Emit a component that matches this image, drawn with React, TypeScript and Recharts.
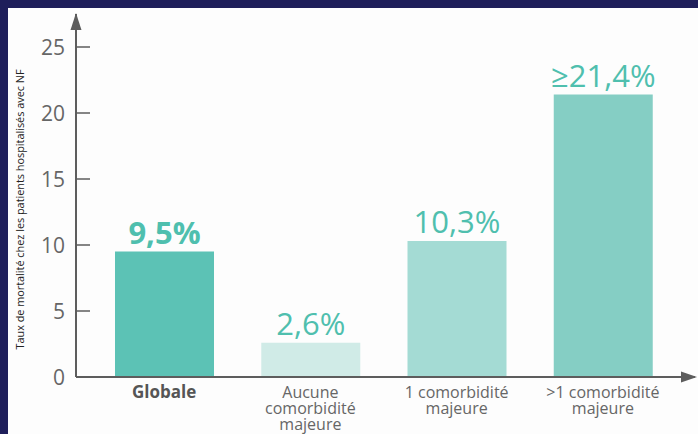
import React from 'react';
import { BarChart, Bar, XAxis, YAxis, Cell, LabelList, usePlotArea } from 'recharts';

const categories = ['Globale', 'Aucune comorbidité majeure', '1 comorbidité majeure', '>1 comorbidité majeure'];
const tickLines = [['Globale'], ['Aucune', 'comorbidité', 'majeure'], ['1 comorbidité', 'majeure'], ['>1 comorbidité', 'majeure']];
const values = [9.5, 2.6, 10.3, 21.4];
const valueLabels = ['9,5%', '2,6%', '10,3%', '≥21,4%'];
const barColors = ['#5cc2b5', '#d0ebe7', '#a4dbd4', '#85cec4'];
const yTicks = [0, 5, 10, 15, 20, 25];
const yTitle = 'Taux de mortalité chez les patients hospitalisés avec NF';

const data = categories.map((c, i) => ({ name: c, value: values[i], idx: i }));

const AXIS = '#5d5d5d';
const FONT = '"Open Sans", "Noto Sans", sans-serif';
const TICK_MARGIN = 11;

const YTick = (props: any) => {
  const { x, y, payload } = props;
  const ax = x + TICK_MARGIN;
  return (
    <g>
      <line x1={ax} y1={y} x2={ax + 14} y2={y} stroke={AXIS} strokeWidth={1.5} />
      <text x={x} y={y} dy={7.5} textAnchor="end" fontFamily={FONT} fontSize={21} fill="#666">
        {payload.value}
      </text>
    </g>
  );
};

const XTick = (props: any) => {
  const { x, y, index } = props;
  const lines = tickLines[index] || [];
  const bold = index === 0;
  return (
    <text x={x} y={y + 13} textAnchor="middle" fontFamily={FONT}
      fontSize={bold ? 17 : 16} fontWeight={bold ? 700 : 400} fill={bold ? '#555' : '#666'}>
      {lines.map((l, i) => (
        <tspan key={i} x={x} dy={i === 0 ? 0 : 16}>{l}</tspan>
      ))}
    </text>
  );
};

const ValueLabel = (props: any) => {
  const { x, y, width, index } = props;
  const bold = index === 0;
  return (
    <text x={x + width / 2} y={y - 8} textAnchor="middle" fontFamily={FONT}
      fontSize={31} fontWeight={bold ? 700 : 400} fill="#4fbfae">
      {valueLabels[index]}
    </text>
  );
};

const Decor = () => {
  const p: any = usePlotArea();
  if (!p) return null;
  const x0 = p.x;
  const yTop = p.y;
  const yb = p.y + p.height;
  const xr = p.x + p.width;
  const tx = x0 - 52;
  const ty = yTop + p.height / 2 + 14;
  return (
    <g>
      <polygon points={`${x0 - 5.5},${yTop + 16} ${x0},${yTop - 1} ${x0 + 5.5},${yTop + 16}`} fill={AXIS} />
      <polygon points={`${xr - 14},${yb - 5.5} ${xr + 2},${yb} ${xr - 14},${yb + 5.5}`} fill={AXIS} />
      <text x={tx} y={ty} transform={`rotate(-90 ${tx} ${ty})`}
        textAnchor="middle" fontFamily={FONT} fontSize={11} fill="#222"
        textLength={280} lengthAdjust="spacingAndGlyphs">
        {yTitle}
      </text>
    </g>
  );
};

export default function App() {
  return (
    <div style={{ position: 'fixed', left: 0, top: 0, width: 698, height: 434, background: '#1e1e5a' }}>
      <div style={{ position: 'absolute', left: 8, top: 8, right: 0, bottom: 0, background: '#fdfdfd' }} />
      <div style={{ position: 'absolute', left: 0, top: 0 }}>
        <BarChart width={698} height={434} data={data} margin={{ top: 14, right: 3, bottom: 0, left: 16 }} barCategoryGap={0}>
          <XAxis dataKey="name" type="category" interval={0} height={57} padding={{ left: 15, right: 19 }}
            axisLine={{ stroke: AXIS, strokeWidth: 2 }} tickLine={false} tick={<XTick />} />
          <YAxis type="number" domain={[0, 27.5]} ticks={yTicks} width={60} allowDataOverflow
            axisLine={{ stroke: AXIS, strokeWidth: 2 }} tickLine={false} tickSize={0} tickMargin={TICK_MARGIN} tick={<YTick />} />
          <Bar dataKey="value" barSize={99} isAnimationActive={false}>
            {data.map((d, i) => (
              <Cell key={i} fill={barColors[i]} />
            ))}
            <LabelList dataKey="value" content={<ValueLabel />} />
          </Bar>
          <Decor />
        </BarChart>
      </div>
    </div>
  );
}
